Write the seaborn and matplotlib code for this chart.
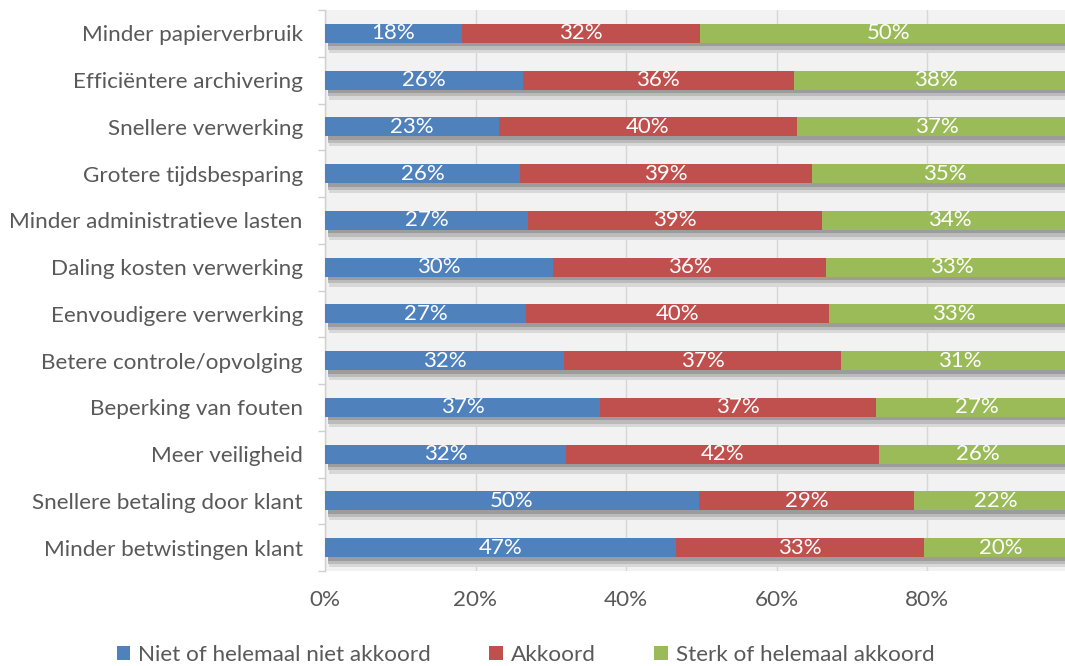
import numpy as np
import pandas as pd
import matplotlib
matplotlib.use("Agg")
import matplotlib.pyplot as plt
import matplotlib.patheffects as pe
from matplotlib.patches import Patch
import seaborn as sns

categories = [
    "Minder papierverbruik",
    "Efficiëntere archivering",
    "Snellere verwerking",
    "Grotere tijdsbesparing",
    "Minder administratieve lasten",
    "Daling kosten verwerking",
    "Eenvoudigere verwerking",
    "Betere controle/opvolging",
    "Beperking van fouten",
    "Meer veiligheid",
    "Snellere betaling door klant",
    "Minder betwistingen klant",
]
niet_akkoord = [18.2, 26.3, 23.1, 25.9, 27.0, 30.3, 26.7, 31.8, 36.6, 32.0, 49.7, 46.6]
akkoord = [31.6, 36.0, 39.6, 38.8, 39.0, 36.3, 40.3, 36.8, 36.6, 41.6, 28.6, 33.0]
sterk_akkoord = [50.2, 37.7, 37.3, 35.3, 34.0, 33.4, 33.0, 31.4, 26.8, 26.4, 21.7, 20.4]
series_names = ["Niet of helemaal niet akkoord", "Akkoord", "Sterk of helemaal akkoord"]
xticks = [0, 20, 40, 60, 80]

colors = ["#4F81BD", "#C0504D", "#9BBB59"]
text_color = "#595959"

sns.set_theme(style="white")
plt.rcParams["font.family"] = ["Lato", "DejaVu Sans"]

df = pd.DataFrame({
    "cat": categories,
    "s1": niet_akkoord,
    "s2": akkoord,
    "s3": sterk_akkoord,
})
df["c1"] = df["s1"]
df["c2"] = df["s1"] + df["s2"]
df["c3"] = df["c2"] + df["s3"]

W, H = 1065, 666
fig = plt.figure(figsize=(W / 100, H / 100), dpi=100)
ax = fig.add_axes([325 / W, 95 / H, 752.5 / W, 561 / H])
ax.set_facecolor("#F2F2F2")
ax.set_axisbelow(True)

# full bar (green) with drop shadow
sns.barplot(data=df, y="cat", x="c3", color=colors[2], orient="h", width=0.41,
            saturation=1, linewidth=0, ax=ax, zorder=3)
shadow = [
    pe.SimplePatchShadow(offset=(2.9, -7.2), shadow_rgbFace="#D8D8D8", alpha=1),
    pe.SimplePatchShadow(offset=(2.5, -4.8), shadow_rgbFace="#BBBBBB", alpha=1),
    pe.SimplePatchShadow(offset=(2.2, -2.4), shadow_rgbFace="#9C9C9C", alpha=1),
    pe.Normal(),
]
for p in list(ax.patches):
    p.set_path_effects(shadow)

sns.barplot(data=df, y="cat", x="c2", color=colors[1], orient="h", width=0.41,
            saturation=1, linewidth=0, ax=ax, zorder=4)
sns.barplot(data=df, y="cat", x="c1", color=colors[0], orient="h", width=0.41,
            saturation=1, linewidth=0, ax=ax, zorder=5)

# data labels
for i, row in df.iterrows():
    starts = [0, row["c1"], row["c2"]]
    vals = [row["s1"], row["s2"], row["s3"]]
    for s, v in zip(starts, vals):
        ax.text(s + v / 2, i, f"{v:.0f}%", ha="center", va="center",
                color="white", fontsize=16, zorder=6)

ax.set_xlim(0, 100)
ax.set_xticks(xticks)
ax.set_xticklabels([f"{t}%" for t in xticks])
ax.xaxis.grid(True, color="#D6D6D6", linewidth=1)
ax.yaxis.grid(False)
ax.set_xlabel("")
ax.set_ylabel("")

ax.set_yticks(np.arange(-0.5, len(categories), 1), minor=True)
ax.tick_params(axis="y", which="minor", left=True, length=5, width=1,
               color="#D0D0D0", direction="out")
ax.tick_params(axis="y", which="major", left=False, length=0, pad=16,
               labelsize=16.2, labelcolor=text_color)
ax.tick_params(axis="x", which="major", bottom=False, length=0, pad=14,
               labelsize=16.2, labelcolor=text_color)

for side in ["top", "right", "bottom"]:
    ax.spines[side].set_visible(False)
ax.spines["left"].set_color("#D0D0D0")
ax.spines["left"].set_linewidth(1)

handles = [Patch(facecolor=c, edgecolor="none") for c in colors]
fig.legend(handles, series_names, loc="center", bbox_to_anchor=(525.5 / W, 1 - 655 / H),
           ncol=3, frameon=False, handlelength=0.6, handleheight=0.6,
           handletextpad=0.35, columnspacing=2.6, fontsize=16.2, labelcolor=text_color)

fig.savefig("out.png", dpi=100)
